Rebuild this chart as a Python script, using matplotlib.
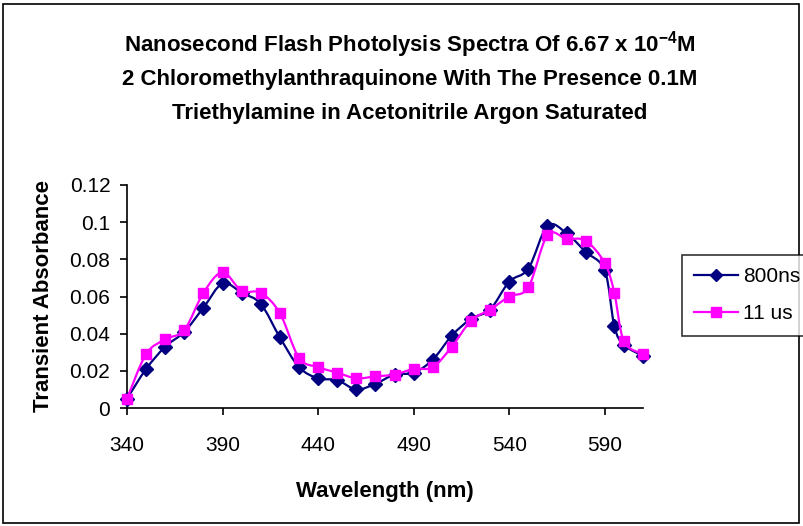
import numpy as np
import matplotlib
matplotlib.use("Agg")
import matplotlib.pyplot as plt
from matplotlib.path import Path
from matplotlib.patches import PathPatch, Rectangle
from matplotlib.lines import Line2D

plt.rcParams['font.family'] = ['Liberation Sans', 'DejaVu Sans']
plt.rcParams['mathtext.fontset'] = 'custom'
plt.rcParams['mathtext.rm'] = 'Liberation Sans:bold'
plt.rcParams['mathtext.bf'] = 'Liberation Sans:bold'

wavelength = [340, 350, 360, 370, 380, 390, 400, 410, 420, 430, 440, 450, 460,
              470, 480, 490, 500, 510, 520, 530, 540, 550, 560, 570, 580, 590,
              595, 600, 610]
abs_800ns = [0.005, 0.021, 0.033, 0.041, 0.054, 0.067, 0.062, 0.056, 0.038,
             0.022, 0.016, 0.015, 0.010, 0.013, 0.018, 0.019, 0.026, 0.039,
             0.048, 0.053, 0.068, 0.075, 0.098, 0.094, 0.084, 0.074, 0.044,
             0.034, 0.028]
abs_11us = [0.005, 0.029, 0.037, 0.042, 0.062, 0.073, 0.063, 0.062, 0.051,
            0.027, 0.022, 0.019, 0.016, 0.017, 0.018, 0.021, 0.022, 0.033,
            0.047, 0.053, 0.060, 0.065, 0.093, 0.091, 0.090, 0.078, 0.062,
            0.036, 0.029]
series_labels = ["800ns", "11 us"]
xticks = [340, 390, 440, 490, 540, 590]
yticks = [0, 0.02, 0.04, 0.06, 0.08, 0.1, 0.12]
ytick_labels = ["0", "0.02", "0.04", "0.06", "0.08", "0.1", "0.12"]

fig = plt.figure(figsize=(8.04, 5.26), dpi=100)
ax = fig.add_axes([127/804, 1 - 408/526, (643 - 127)/804, (408 - 185)/526])


def smooth_path(xs, ys):
    pts = np.column_stack([xs, ys]).astype(float)
    n = len(pts)
    verts = [pts[0]]
    codes = [Path.MOVETO]
    for i in range(n - 1):
        p0 = pts[i - 1] if i > 0 else pts[i]
        p1 = pts[i]
        p2 = pts[i + 1]
        p3 = pts[i + 2] if i + 2 < n else pts[i + 1]
        c1 = p1 + (p2 - p0) / 6.0
        c2 = p2 - (p3 - p1) / 6.0
        verts += [c1, c2, p2]
        codes += [Path.CURVE4] * 3
    return Path(verts, codes)


styles = [
    dict(color="#000080", marker="D", ms=7),
    dict(color="#FF00FF", marker="s", ms=7.5),
]
for ys, st, z in zip([abs_800ns, abs_11us], styles, [3, 4]):
    patch = PathPatch(smooth_path(wavelength, ys), facecolor="none",
                      edgecolor=st["color"], lw=1.6, zorder=z, clip_on=False)
    ax.add_patch(patch)
    ax.plot(wavelength, ys, linestyle="none", marker=st["marker"],
            ms=st["ms"], color=st["color"], mec=st["color"], zorder=z + 0.5,
            clip_on=False)

ax.set_xlim(340, 610)
ax.set_ylim(0, 0.12)
ax.set_xticks(xticks)
ax.set_yticks(yticks)
ax.set_yticklabels(ytick_labels)
for s in ["top", "right"]:
    ax.spines[s].set_visible(False)
for s in ["left", "bottom"]:
    ax.spines[s].set_linewidth(1.2)
ax.tick_params(axis="x", direction="out", length=5, width=1.2, pad=15,
               labelsize=15)
ax.tick_params(axis="y", direction="out", length=5, width=1.2, pad=7,
               labelsize=15)
ax.set_xlabel("Wavelength (nm)", fontsize=16, fontweight="bold", labelpad=19)
ax.set_ylabel("Transient Absorbance", fontsize=16, fontweight="bold",
              labelpad=11)

title_x = 410 / 804
fig.text(title_x, 1 - 45/526, r"Nanosecond Flash Photolysis Spectra Of 6.67 x 10$^{-4}$M",
         ha="center", va="center", fontsize=16, fontweight="bold")
fig.text(title_x, 1 - 80/526, "2 Chloromethylanthraquinone With The Presence 0.1M",
         ha="center", va="center", fontsize=16, fontweight="bold")
fig.text(title_x, 1 - 113/526, "Triethylamine in Acetonitrile Argon Saturated",
         ha="center", va="center", fontsize=16, fontweight="bold")

handles = [Line2D([], [], color=st["color"], marker=st["marker"], ms=st["ms"] * 0.9,
                  lw=1.6) for st in styles]
leg = fig.legend(handles, series_labels, loc="upper left",
                 bbox_to_anchor=(682/804, 1 - 255/526), fontsize=15,
                 frameon=True, fancybox=False, edgecolor="black",
                 handlelength=2.1, handletextpad=0.25, labelspacing=0.85,
                 borderpad=0.6, borderaxespad=0)
leg.get_frame().set_linewidth(1.2)

fig.patches.append(Rectangle((3/804, 3/526), 796/804, 519/526,
                             transform=fig.transFigure, fill=False,
                             edgecolor="black", lw=1.2))

fig.savefig("out.png", dpi=100)
